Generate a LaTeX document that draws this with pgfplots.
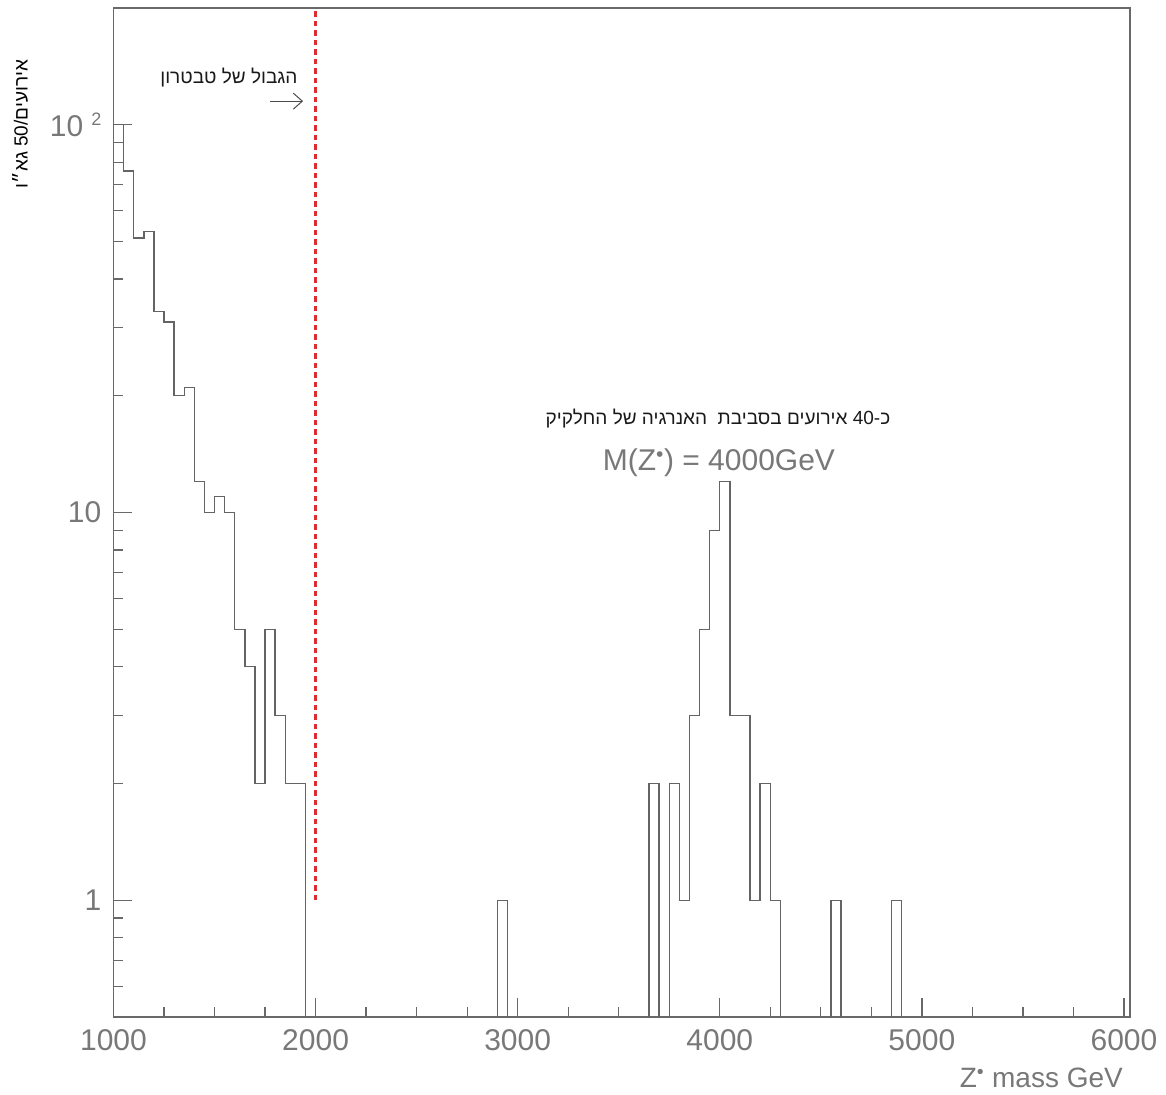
\documentclass[border=0pt]{standalone}
\usepackage{fontspec}
\setmainfont{Liberation Sans}
\newfontfamily\heb[Script=Hebrew]{Liberation Sans}
\usepackage{pgfplots}
\pgfplotsset{compat=1.18}
\usetikzlibrary{arrows.meta}
\TeXXeTstate=1

\definecolor{framegray}{RGB}{105,105,105}
\definecolor{labelgray}{RGB}{120,120,120}
\definecolor{histgray}{RGB}{100,100,100}
\definecolor{limitred}{RGB}{222,45,50}

\begin{document}
\begin{tikzpicture}
% 1pt = 1px of the reference
\useasboundingbox (-113.5pt,-77pt) rectangle (1052.5pt,1017pt);
\begin{axis}[
  at={(0pt,0pt)}, anchor=south west,
  scale only axis, width=1016.5pt, height=1009pt,
  xmin=1000, xmax=6030,
  ymode=log, ymin=0.5, ymax=200,
  xtick={1000,2000,3000,4000,5000,6000},
  xticklabels={1000,2000,3000,4000,5000,6000},
  minor xtick={1250,1500,1750,2250,2500,2750,3250,3500,3750,4250,4500,4750,5250,5500,5750},
  ytick={1,10,100},
  yticklabels={1,10,{10\hspace{8pt}\raisebox{11pt}{\fontsize{18}{18}\selectfont 2}}},
  minor ytick={0.6,0.7,0.8,0.9,2,3,4,5,6,7,8,9,20,30,40,50,60,70,80,90},
  tick pos=left, tick align=inside,
  major tick length=19pt, minor tick length=10pt,
  tick style={framegray, line width=1.3pt},
  axis line style={framegray, line width=1.5pt},
  tick label style={font=\fontsize{30}{30}\selectfont, text=labelgray, inner sep=0pt},
  xticklabel shift=12pt, yticklabel shift=12pt,
  xlabel={Z\textsuperscript{•} mass GeV},
  xlabel style={at={(axis description cs:1,0)}, anchor=east, xshift=-7pt, yshift=-61pt,
    font=\fontsize{28}{28}\selectfont, text=labelgray, inner sep=0pt},
  ylabel={\heb\beginR אירועים\kern0pt/\kern0pt50 גא״ו\endR},
  ylabel style={at={(axis description cs:-0.092,0.885)}, anchor=center,
    font=\fontsize{19}{19}\selectfont, text=black, inner sep=0pt},
]
\addplot[const plot, histgray, line width=1.4pt] coordinates {
(1000,100) (1050,76) (1100,51) (1150,53) (1200,33) (1250,31) (1300,20) (1350,21)
(1400,12) (1450,10) (1500,11) (1550,10) (1600,5) (1650,4) (1700,2) (1750,5)
(1800,3) (1850,2) (1900,2) (1950,0.01) (2900,1) (2950,0.01) (3650,2) (3700,0.01)
(3750,2) (3800,1) (3850,3) (3900,5) (3950,9) (4000,12) (4050,3) (4100,3)
(4150,1) (4200,2) (4250,1) (4300,0.01) (4550,1) (4600,0.01) (4850,1) (4900,0.01)
(6030,0.01)};
\addplot[limitred, line width=3pt, dash pattern=on 5.5pt off 4pt] coordinates {(2000,1) (2000,200)};

\node[font=\heb\fontsize{19}{19}\selectfont, text=black!90] at (axis cs:1571,132)
  {\beginR הגבול של טבטרון\endR};
\draw[-{Straight Barb[length=9pt,width=16pt]}, line width=1pt, black!70]
  (axis cs:1774,115) -- (axis cs:1938,115);
\node[font=\heb\fontsize{19}{19}\selectfont, text=black!90] at (axis cs:3991,17.5)
  {\beginR כ\kern0pt-\kern0pt40 אירועים בסביבת\ \ האנרגיה של החלקיק\endR};
\node[font=\fontsize{30}{30}\selectfont, text=labelgray] at (axis cs:3996,13.4)
  {M(Z\textsuperscript{•}) = 4000GeV};
\end{axis}
\end{tikzpicture}
\end{document}
